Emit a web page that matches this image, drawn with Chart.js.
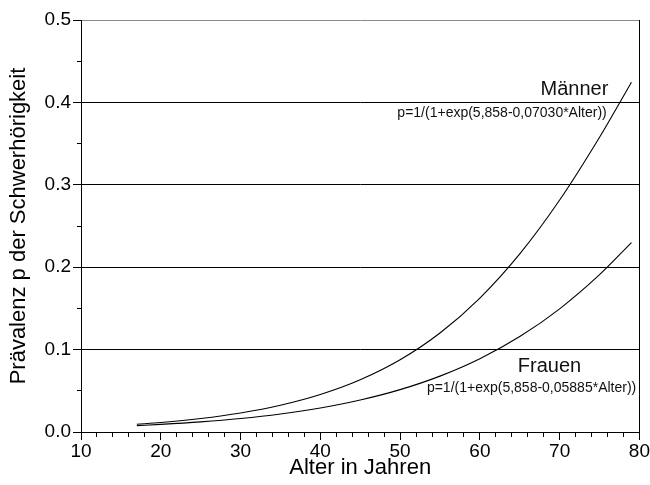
<!DOCTYPE html>
<html>
<head>
<meta charset="utf-8">
<script src="https://cdn.jsdelivr.net/npm/chart.js@4.4.1/dist/chart.umd.min.js"></script>
<style>
  html, body { margin: 0; padding: 0; background: #fff; }
  #wrap { width: 650px; height: 485px; }
</style>
</head>
<body>
<div id="wrap"><canvas id="c" width="650" height="485"></canvas></div>
<script>
// Data
const ages    = [17, 20, 25, 30, 35, 40, 45, 50, 55, 60, 65, 70, 75, 79];
const maenner = [0.0094, 0.0115, 0.0163, 0.0230, 0.0324, 0.0454, 0.0633, 0.0876, 0.1201, 0.1625, 0.2161, 0.2815, 0.3577, 0.4245];
const frauen  = [0.0077, 0.0092, 0.0123, 0.0164, 0.0219, 0.0292, 0.0388, 0.0514, 0.0678, 0.0889, 0.1158, 0.1495, 0.1909, 0.2299];
const xTickLabels = [10, 20, 30, 40, 50, 60, 70, 80];
const yTickLabels = ['0.0', '0.1', '0.2', '0.3', '0.4', '0.5'];
const seriesNames = ['Männer', 'Frauen'];
const formulas = ['p=1/(1+exp(5,858-0,07030*Alter))', 'p=1/(1+exp(5,858-0,05885*Alter))'];

const FONT = '"Liberation Sans", Arial, sans-serif';

function pts(xs, ys) { return xs.map((x, i) => ({ x: x, y: ys[i] })); }

const textLabels = {
  id: 'textLabels',
  afterDatasetsDraw(chart) {
    const { ctx, scales } = chart;
    const xs = scales.x, ys = scales.y;
    const items = [
      { t: seriesNames[0], x: 76.1, y: 0.409, size: 20 },
      { t: formulas[0],    x: 75.9, y: 0.382, size: 14 },
      { t: seriesNames[1], x: 72.7, y: 0.0728, size: 20 },
      { t: formulas[1],    x: 79.6, y: 0.0485, size: 14 }
    ];
    ctx.save();
    ctx.fillStyle = '#111';
    ctx.textAlign = 'right';
    ctx.textBaseline = 'alphabetic';
    items.forEach(it => {
      ctx.font = it.size + 'px ' + FONT;
      ctx.fillText(it.t, xs.getPixelForValue(it.x), ys.getPixelForValue(it.y));
    });
    ctx.restore();
  }
};

const isMult = (v, step) => Math.abs(v / step - Math.round(v / step)) < 1e-6;

new Chart(document.getElementById('c'), {
  type: 'line',
  data: {
    datasets: [
      { label: seriesNames[0], data: pts(ages, maenner), borderColor: '#000', borderWidth: 1.1, pointRadius: 0, cubicInterpolationMode: 'monotone', fill: false },
      { label: seriesNames[1], data: pts(ages, frauen),  borderColor: '#000', borderWidth: 1.1, pointRadius: 0, cubicInterpolationMode: 'monotone', fill: false }
    ]
  },
  options: {
    responsive: false,
    animation: false,
    layout: { padding: { top: 20, right: 10, left: 0, bottom: 0 } },
    plugins: { legend: { display: false }, tooltip: { enabled: false } },
    scales: {
      x: {
        type: 'linear', min: 10, max: 80,
        afterFit(s) { s.height = 53; },
        ticks: {
          stepSize: 2, autoSkip: false, maxRotation: 0, padding: 0,
          color: '#000', font: { family: FONT, size: 19 },
          callback: v => (isMult(v, 10) && xTickLabels.includes(Math.round(v))) ? String(Math.round(v)) : ''
        },
        grid: {
          drawOnChartArea: false, tickColor: '#000', tickLength: 8,
          tickBorderDash: c => (c.tick && isMult(c.tick.value, 10)) ? [] : [4, 30]
        },
        border: { color: '#000', width: 1 },
        title: { display: true, text: 'Alter in Jahren', color: '#000', font: { family: FONT, size: 22 }, padding: { top: 0, bottom: 4 } }
      },
      y: {
        type: 'linear', min: 0, max: 0.5,
        afterFit(s) { s.width = 81; },
        ticks: {
          stepSize: 0.05, autoSkip: false, padding: 2,
          color: '#000', font: { family: FONT, size: 19 },
          callback: v => isMult(v, 0.1) ? yTickLabels[Math.round(v * 10)] : ''
        },
        grid: {
          tickColor: '#000', tickLength: 8,
          tickBorderDash: c => (c.tick && isMult(c.tick.value, 0.1)) ? [] : [0, 4, 5, 30],
          color: c => {
            const v = c.tick ? c.tick.value : 0;
            if (!isMult(v, 0.1)) return 'rgba(0,0,0,0)';
            if (Math.round(v * 10) === 5) return '#8a8a8a';
            return '#000';
          },
          lineWidth: 1
        },
        border: { color: '#000', width: 1 },
        title: { display: true, text: 'Prävalenz p der Schwerhörigkeit', color: '#000', font: { family: FONT, size: 22 }, padding: { top: 6, bottom: 0 } }
      },
      yR: {
        type: 'linear', position: 'right', min: 0, max: 0.5,
        afterFit(s) { s.width = 0; },
        ticks: { display: false },
        grid: { drawOnChartArea: false, drawTicks: false },
        border: { color: '#000', width: 1 }
      }
    }
  },
  plugins: [textLabels]
});
</script>
</body>
</html>
